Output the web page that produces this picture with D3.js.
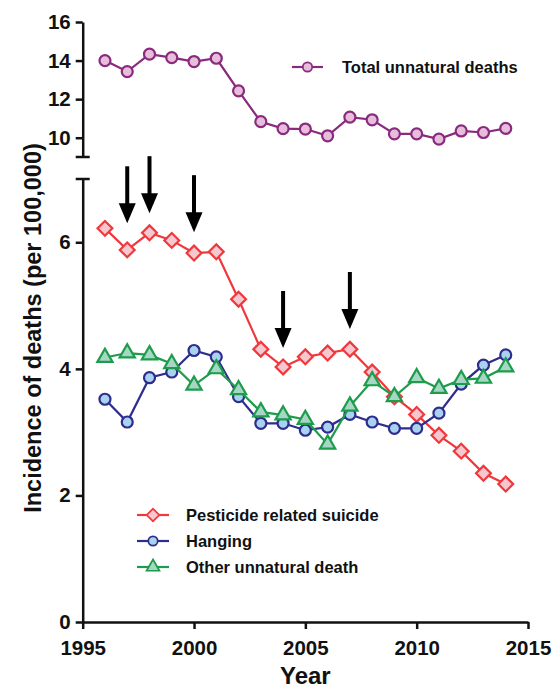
<!DOCTYPE html>
<html>
<head>
<meta charset="utf-8">
<script src="https://cdn.jsdelivr.net/npm/d3@7"></script>
<style>
  body { margin: 0; background: #fff; }
  svg { display: block; font-family: "Liberation Sans", Arial, sans-serif; }
</style>
</head>
<body>
<div id="chart"></div>
<script>
// Values, per 100,000
const years = [1996, 1997, 1998, 1999, 2000, 2001, 2002, 2003, 2004, 2005,
               2006, 2007, 2008, 2009, 2010, 2011, 2012, 2013, 2014];
const totalUnnatural = [14.0, 13.43, 14.33, 14.15, 13.95, 14.12, 12.43, 10.83, 10.47, 10.45,
                        10.1, 11.07, 10.93, 10.2, 10.2, 9.93, 10.35, 10.27, 10.48];
const pesticide = [6.22, 5.88, 6.15, 6.03, 5.83, 5.85, 5.10, 4.31, 4.03, 4.19,
                   4.25, 4.31, 3.95, 3.56, 3.28, 2.95, 2.70, 2.35, 2.18];
const hanging = [3.52, 3.16, 3.86, 3.95, 4.29, 4.19, 3.56, 3.14, 3.14, 3.03,
                 3.08, 3.28, 3.16, 3.06, 3.06, 3.30, 3.76, 4.06, 4.22];
const otherDeath = [4.18, 4.25, 4.22, 4.08, 3.74, 4.00, 3.67, 3.32, 3.27, 3.20,
                    2.81, 3.41, 3.81, 3.56, 3.86, 3.69, 3.83, 3.85, 4.03];

// Arrows: year and value at the arrow tip (lower panel)
const arrowYears = [1997, 1998, 2000, 2004, 2007];
const arrowTips = [6.30, 6.46, 6.16, 4.33, 4.63];

const xTicks = [1995, 2000, 2005, 2010, 2015];
const topTicks = [10, 12, 14, 16];
const lowTicks = [0, 2, 4, 6];

function drawChart() {
    const width = 556;
    const height = 688;
    const axisColor = "#111";

    const x = d3.scaleLinear().domain([1995, 2015]).range([82.7, 528]);
    const yTop = d3.scaleLinear().domain([9, 16]).range([157, 22]);
    const yLow = d3.scaleLinear().domain([0, 7]).range([622, 179]);

    const svg = d3.select("#chart").append("svg")
        .attr("width", width).attr("height", height);
    svg.append("rect").attr("width", width).attr("height", height).attr("fill", "#fff");

    // Style an axis group
    function styleAxis(g) {
        g.selectAll("path, line").attr("stroke", axisColor).attr("stroke-width", 2.5);
        g.selectAll("text")
            .attr("fill", axisColor)
            .attr("font-size", 20.5)
            .attr("font-weight", "bold")
            .attr("font-family", "Liberation Sans, Arial, sans-serif");
    }

    // Axes
    svg.append("g")
        .attr("transform", `translate(0,${yLow(0)})`)
        .call(d3.axisBottom(x).tickValues(xTicks).tickFormat(d3.format("d"))
            .tickSize(7).tickSizeOuter(0).tickPadding(11))
        .call(styleAxis);

    svg.append("g")
        .attr("transform", `translate(${x(1995)},0)`)
        .call(d3.axisLeft(yTop).tickValues(topTicks).tickFormat(d3.format("d"))
            .tickSize(7).tickSizeOuter(0).tickPadding(5))
        .call(styleAxis);

    svg.append("g")
        .attr("transform", `translate(${x(1995)},0)`)
        .call(d3.axisLeft(yLow).tickValues(lowTicks).tickFormat(d3.format("d"))
            .tickSize(7).tickSizeOuter(0).tickPadding(5))
        .call(styleAxis);

    // Axis break caps
    [yTop(9), yLow(7)].forEach(yy => {
        svg.append("line")
            .attr("x1", x(1995) - 7).attr("x2", x(1995) + 7)
            .attr("y1", yy).attr("y2", yy)
            .attr("stroke", axisColor).attr("stroke-width", 2.5);
    });

    // Axis titles
    svg.append("text")
        .attr("x", (x(1995) + x(2015)) / 2).attr("y", 684)
        .attr("text-anchor", "middle")
        .attr("font-size", 24).attr("font-weight", "bold").attr("fill", axisColor)
        .text("Year");

    svg.append("text")
        .attr("transform", "translate(41,328) rotate(-90)")
        .attr("text-anchor", "middle")
        .attr("font-size", 23.5).attr("font-weight", "bold").attr("fill", axisColor)
        .text("Incidence of deaths (per 100,000)");

    // Marker paths
    const circle = d3.symbol().type(d3.symbolCircle).size(Math.PI * 5.5 * 5.5)();
    const diamond = d3.symbol().type(d3.symbolSquare).size(110)();
    const triangle = d3.symbol().type(d3.symbolTriangle).size(100)();

    const series = [
        {name: "Total unnatural deaths", values: totalUnnatural, y: yTop,
         stroke: "#8a2a7e", fill: "#e7bddb", shape: circle, rotate: 0},
        {name: "Pesticide related suicide", values: pesticide, y: yLow,
         stroke: "#f0383c", fill: "#f5c8d0", shape: diamond, rotate: 45},
        {name: "Hanging", values: hanging, y: yLow,
         stroke: "#2e2c8c", fill: "#a9d2f0", shape: circle, rotate: 0},
        {name: "Other unnatural death", values: otherDeath, y: yLow,
         stroke: "#1d9c4c", fill: "#a6d6c4", shape: triangle, rotate: 0}
    ];

    series.forEach(s => {
        const pts = years.map((yr, i) => [x(yr), s.y(s.values[i])]);
        const g = svg.append("g");
        g.append("path")
            .attr("d", d3.line()(pts))
            .attr("fill", "none")
            .attr("stroke", s.stroke)
            .attr("stroke-width", 2.2);
        g.selectAll("path.mark")
            .data(pts)
            .join("path")
            .attr("class", "mark")
            .attr("d", s.shape)
            .attr("transform", d => `translate(${d[0]},${d[1]}) rotate(${s.rotate})`)
            .attr("fill", s.fill)
            .attr("stroke", s.stroke)
            .attr("stroke-width", 2.2);
    });

    // Arrows
    const arrowLen = 57;
    const headLen = 20;
    const headHalf = 8.5;
    arrowYears.forEach((yr, i) => {
        const ax = x(yr);
        const tip = yLow(arrowTips[i]);
        svg.append("line")
            .attr("x1", ax).attr("x2", ax)
            .attr("y1", tip - arrowLen).attr("y2", tip - headLen + 2)
            .attr("stroke", "#000").attr("stroke-width", 4);
        svg.append("path")
            .attr("d", `M${ax - headHalf},${tip - headLen}L${ax + headHalf},${tip - headLen}L${ax},${tip}Z`)
            .attr("fill", "#000");
    });

    // Legends
    function legendItem(s, x0, x1, tx, yy) {
        const g = svg.append("g");
        g.append("line")
            .attr("x1", x0).attr("x2", x1).attr("y1", yy).attr("y2", yy)
            .attr("stroke", s.stroke).attr("stroke-width", 2.2);
        g.append("path")
            .attr("d", s.shape)
            .attr("transform", `translate(${(x0 + x1) / 2},${yy}) rotate(${s.rotate}) scale(0.85)`)
            .attr("fill", s.fill).attr("stroke", s.stroke).attr("stroke-width", 2);
        g.append("text")
            .attr("x", tx).attr("y", yy).attr("dy", "0.36em")
            .attr("font-size", 16.5).attr("font-weight", "bold").attr("fill", "#111")
            .text(s.name);
    }

    legendItem(series[0], 292, 323, 342, 67);
    legendItem(series[1], 137, 169, 186, 515);
    legendItem(series[2], 137, 169, 186, 541);
    legendItem(series[3], 137, 169, 186, 567);
}

drawChart();
</script>
</body>
</html>
